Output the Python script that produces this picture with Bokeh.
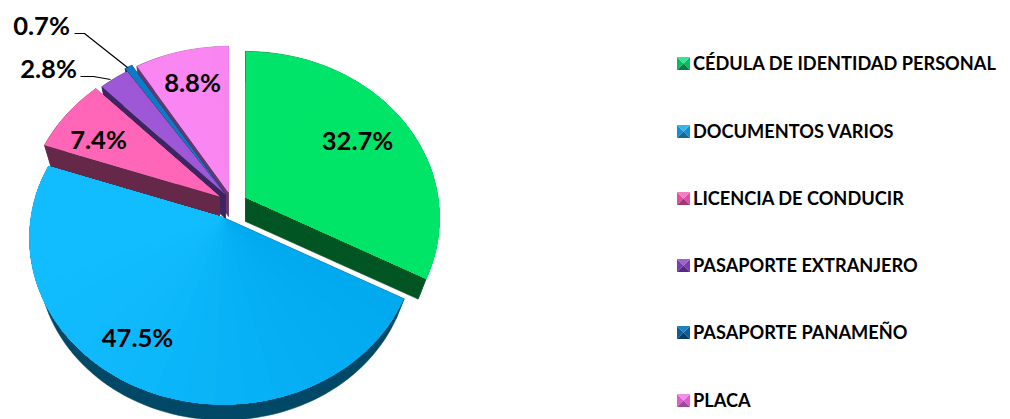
import math
from bokeh.plotting import figure
from bokeh.models import Range1d
from bokeh.core.properties import value
from bokeh.embed import file_html
from bokeh.resources import INLINE

categories = ["CÉDULA DE IDENTIDAD PERSONAL", "DOCUMENTOS VARIOS", "LICENCIA DE CONDUCIR",
              "PASAPORTE EXTRANJERO", "PASAPORTE PANAMEÑO", "PLACA"]
shares = [32.7, 47.5, 7.4, 2.8, 0.7, 8.8]
share_labels = ["32.7%", "47.5%", "7.4%", "2.8%", "0.7%", "8.8%"]

# left-side colour, right-side colour, wall colour
c_left = ["#00e46a", "#12bdff", "#ff66b8", "#a058d8", "#0d7cc8", "#fb88f4"]
c_right = ["#00e468", "#00a8ee", "#ff62ae", "#9550cc", "#0d74be", "#f582ec"]
c_wall = ["#005522", "#004866", "#662848", "#3c2560", "#0a3560", "#6a3570"]
leg_main = ["#00c060", "#1090d8", "#e050a0", "#7a3cb0", "#0f5c96", "#d860c8"]
leg_light = ["#30e890", "#30b8f0", "#f080c0", "#a060d0", "#2080c0", "#f090e8"]
leg_dark = ["#008040", "#0f6a9a", "#a03878", "#55288a", "#0a3c68", "#a04898"]

apex = [(245, 197), (223, 217), (219, 196), (225, 194), (223, 191), (228, 192)]
label_pos = [(357, 139), (137, 336), (98, 138), (48, 67), (41, 24), (192, 81)]
legend_y = [62, 130, 197, 264, 331, 399]

KX, KY, PERSP = 192.5, 164.0, 0.123
BOT_SCALE, BOT_DROP = 0.955, 24.0


def rim(theta, a):
    s, c = math.sin(theta), math.cos(theta)
    d = 1 + PERSP * c
    return a[0] + KX * s / d, a[1] - KY * c / d


def low(pt, a):
    return a[0] + (pt[0] - a[0]) * BOT_SCALE, a[1] + BOT_DROP + (pt[1] - a[1]) * BOT_SCALE


def mix(c1, c2, t):
    v1 = [int(c1[i:i + 2], 16) for i in (1, 3, 5)]
    v2 = [int(c2[i:i + 2], 16) for i in (1, 3, 5)]
    return "#%02x%02x%02x" % tuple(round(p + (q - p) * t) for p, q in zip(v1, v2))


p = figure(width=1010, height=419, output_backend="svg", toolbar_location=None,
           x_range=Range1d(0, 1010), y_range=Range1d(419, 0), min_border=0)
p.axis.visible = False
p.grid.visible = False
p.outline_line_color = None
p.background_fill_color = None

total = sum(shares)
spans = []
acc = 0.0
for v in shares:
    spans.append((acc / total * 2 * math.pi, (acc + v) / total * 2 * math.pi))
    acc += v

for i in [5, 4, 3, 2, 0, 1]:
    t0, t1 = spans[i]
    a = apex[i]
    n = max(2, int((t1 - t0) / math.radians(2)))
    ts = [t0 + (t1 - t0) * k / n for k in range(n + 1)]
    pts = [rim(t, a) for t in ts]
    lows = [low(q, a) for q in pts]
    lo_a = (a[0], a[1] + BOT_DROP)
    wx, wy = [], []
    wx.append([a[0], pts[0][0], lows[0][0], lo_a[0]])
    wy.append([a[1], pts[0][1], lows[0][1], lo_a[1]])
    wx.append([a[0], pts[-1][0], lows[-1][0], lo_a[0]])
    wy.append([a[1], pts[-1][1], lows[-1][1], lo_a[1]])
    wx.append([q[0] for q in pts] + [q[0] for q in reversed(lows)])
    wy.append([q[1] for q in pts] + [q[1] for q in reversed(lows)])
    p.patches(wx, wy, fill_color=c_wall[i], line_color=c_wall[i], line_width=0.5)
    # nested fans: each one paints from its own angle to the slice's end, so no seams show
    for k in range(0, n, 4):
        tm = (ts[k] + ts[min(k + 4, n)]) / 2
        col = mix(c_left[i], c_right[i], (math.sin(tm) + 1) / 2)
        xs = [a[0]] + [q[0] for q in pts[k:]]
        ys = [a[1]] + [q[1] for q in pts[k:]]
        p.patch(xs, ys, fill_color=col, line_color=None)

# leader lines for the two small slices
p.line([74, 84, 127], [33, 33, 67], line_color="black", line_width=1.2)
p.line([80, 93, 110], [76, 76, 79], line_color="black", line_width=1.2)

p.text([q[0] for q in label_pos], [q[1] for q in label_pos], text=share_labels,
       text_font=value("Lato"), text_font_style="bold", text_font_size="25.6px",
       text_color="black", text_align="center", text_baseline="middle")

for i, yc in enumerate(legend_y):
    x0, x1 = 676.5, 689.5
    y0, y1 = yc - 5.5, yc + 7.5
    xm, ym = (x0 + x1) / 2, (y0 + y1) / 2
    p.patches([[x0, xm, x0], [x1, xm, x1], [x0, xm, x1], [x0, xm, x1]],
              [[y0, ym, y1], [y0, ym, y1], [y0, ym, y0], [y1, ym, y1]],
              fill_color=[leg_main[i], leg_main[i], leg_light[i], leg_dark[i]],
              line_color=None)

p.text([692.5] * 6, legend_y, text=categories, text_font=value("Lato"),
       text_font_style="bold", text_font_size="18.2px", text_color="black",
       text_align="left", text_baseline="middle")

open("out.html", "w").write(file_html(p, INLINE))
